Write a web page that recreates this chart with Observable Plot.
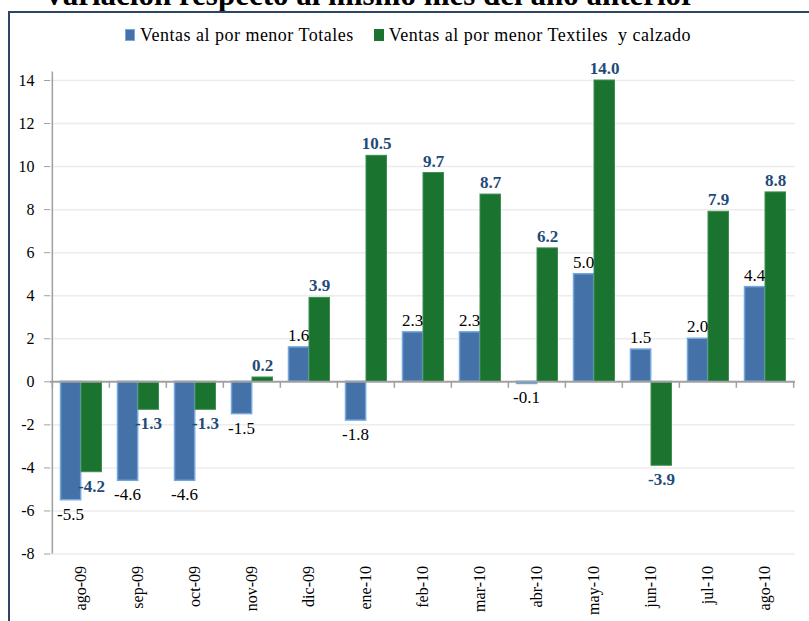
<!DOCTYPE html>
<html><head><meta charset="utf-8">
<script src="https://cdn.jsdelivr.net/npm/d3@7"></script>
<script src="https://cdn.jsdelivr.net/npm/@observablehq/plot@0.6"></script>
<style>
body{margin:0;background:#fff;width:809px;height:621px;overflow:hidden;position:relative;font-family:"Liberation Serif",serif;}
#title{position:absolute;left:0;width:738px;text-align:center;top:-21px;font-size:31px;font-weight:bold;line-height:31px;white-space:nowrap;color:#000;}
#frame{position:absolute;left:8px;top:11px;width:900px;height:700px;border:2px solid #2c4466;box-sizing:border-box;}
#legend{position:absolute;top:25px;left:0;width:816px;text-align:center;font-size:18px;letter-spacing:0.5px;color:#000;white-space:nowrap;}
#legend span.sw{display:inline-block;width:8px;height:10px;margin-right:5px;vertical-align:0px;}
#chart{position:absolute;top:50px;left:0;}
#chart svg, #chart svg text, #chart svg g{font-family:"Liberation Serif",serif !important;}
</style></head><body>
<div id="title">Variación respecto al mismo mes del año anterior</div>
<div id="frame"></div>
<div id="legend"><span class="sw" style="background:#4472a8;border:1px solid #7aa9de"></span>Ventas al por menor Totales&nbsp;&nbsp;&nbsp;&nbsp;<span class="sw" style="background:#1a7430;border:1px solid #1a7430"></span>Ventas al por menor Textiles&nbsp; y calzado</div>
<div id="chart"></div>
<script>
const months = ["ago-09","sep-09","oct-09","nov-09","dic-09","ene-10","feb-10","mar-10","abr-10","may-10","jun-10","jul-10","ago-10"];
const totales = [-5.5,-4.6,-4.6,-1.5,1.6,-1.8,2.3,2.3,-0.1,5.0,1.5,2.0,4.4];
const textiles = [-4.2,-1.3,-1.3,0.2,3.9,10.5,9.7,8.7,6.2,14.0,-3.9,7.9,8.8];
const yTicks = [-8,-6,-4,-2,0,2,4,6,8,10,12,14];

const W = 809, mL = 50, mR = 14;
const bw = (W - mL - mR) / months.length;
const tot = months.map((m,i)=>({m, v: totales[i]}));
const tex = months.map((m,i)=>({m, v: textiles[i]}));
const grey = "#a0a0a0";

const chart = Plot.plot({
  width: W, height: 600,
  marginLeft: mL, marginRight: mR, marginTop: 30, marginBottom: 96.5,
  style: {fontFamily: "Liberation Serif", fontSize: "16px", color: "#000", background: "transparent", overflow: "visible"},
  x: {type: "band", domain: months, padding: 0, label: null},
  y: {domain: [-8, 14], label: null},
  marks: [
    Plot.gridY(yTicks.filter(t => t !== 0), {stroke: "#ececec", strokeOpacity: 1, strokeWidth: 1.5}),
    Plot.barY(tot, {x: "m", y: "v", fill: "#4472a8", stroke: "#75a6de", strokeWidth: 1.5, insetLeft: 8.5, insetRight: bw - 29}),
    Plot.barY(tex, {x: "m", y: "v", fill: "#1a7430", stroke: "#3f8d52", strokeWidth: 1, insetLeft: 29, insetRight: 7.5}),
    Plot.ruleY([0], {stroke: grey, strokeWidth: 2}),
    Plot.axisY({ticks: yTicks, tickSize: 6, tickPadding: 10, stroke: grey, strokeOpacity: 1, fontSize: 16, tickFormat: d => String(d).replace("−", "-")}),
    Plot.ruleX([months[0]], {x: d => d, y1: -8, y2: 14.4, dx: -bw/2, stroke: grey, strokeWidth: 1.5}),
    Plot.ruleX(months, {x: d => d, y1: 0, y2: -0.3, dx: -bw/2, stroke: grey, strokeWidth: 1.5}),
    Plot.ruleX([months[months.length-1]], {x: d => d, y1: 0, y2: -0.3, dx: bw/2, stroke: grey, strokeWidth: 1.5}),
    Plot.axisX({domain: months, anchor: "bottom", tickSize: 0, tickPadding: 12, tickRotate: -90, fontSize: 16, textAnchor: "end"}),
    Plot.text(tot.filter(d => d.v >= 0), {x: "m", y: "v", text: d => d.v.toFixed(1), dx: -10.5, dy: -12, fill: "#000", fontSize: 17}),
    Plot.text(tot.filter(d => d.v < 0), {x: "m", y: "v", text: d => d.v.toFixed(1), dx: -10.5, dy: 14, fill: "#000", fontSize: 17}),
    Plot.text(tex.filter(d => d.v >= 0), {x: "m", y: "v", text: d => d.v.toFixed(1), dx: 10.5, dy: -12, fill: "#1f4a7a", fontWeight: "bold", fontSize: 17}),
    Plot.text(tex.filter(d => d.v < 0), {x: "m", y: "v", text: d => d.v.toFixed(1), dx: 10.5, dy: 14, fill: "#1f4a7a", fontWeight: "bold", fontSize: 17})
  ]
});
document.getElementById("chart").appendChild(chart);
</script>
</body></html>
